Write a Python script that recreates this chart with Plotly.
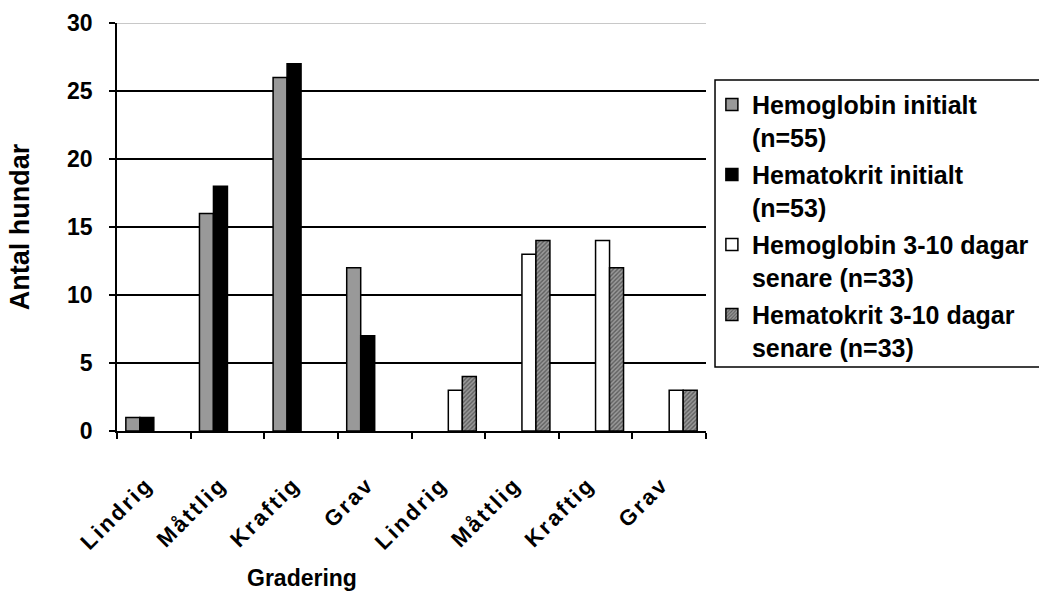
import plotly.graph_objects as go

# Severity grades, shown once for the initial samples and once for the follow-up
grades = ["Lindrig", "Måttlig", "Kraftig", "Grav"]
periods = ["initialt", "3-10 dagar senare"]

hb_initial = [1, 16, 26, 12]
hct_initial = [1, 18, 27, 7]
hb_later = [3, 13, 14, 3]
hct_later = [4, 14, 12, 3]

series_names = [
    "Hemoglobin initialt<br>(n=55)",
    "Hematokrit initialt<br>(n=53)",
    "Hemoglobin 3-10 dagar<br>senare (n=33)",
    "Hematokrit 3-10 dagar<br>senare (n=33)",
]

y_ticks = [0, 5, 10, 15, 20, 25, 30]

# unique category ids, labelled with the plain grade name
cat_ids = [f"{g} ({p})" for p in periods for g in grades]
tick_text = grades * 2
none4 = [None] * 4

FONT = "Liberation Sans, Arial, sans-serif"

fig = go.Figure()
fig.add_bar(name=series_names[0], x=cat_ids, y=hb_initial + none4,
            marker=dict(color="#999999", line=dict(color="black", width=1.5)),
            legendgroup="a")
fig.add_bar(name=series_names[1], x=cat_ids, y=hct_initial + none4,
            marker=dict(color="#000000", line=dict(color="black", width=1.5)),
            legendgroup="b")
fig.add_bar(name=series_names[2], x=cat_ids, y=none4 + hb_later,
            marker=dict(color="#ffffff", line=dict(color="black", width=1.5)),
            legendgroup="c")
fig.add_bar(name=series_names[3], x=cat_ids, y=none4 + hct_later,
            marker=dict(color="#8c8c8c", line=dict(color="black", width=1.5),
                        pattern=dict(shape="/", fgcolor="#222222", bgcolor="#9a9a9a",
                                     size=3, solidity=0.45)),
            legendgroup="d")

fig.update_layout(
    width=1039, height=601,
    margin=dict(l=117, r=333, t=23, b=170, autoexpand=False),
    paper_bgcolor="white", plot_bgcolor="white",
    barmode="group", bargap=0.24, bargroupgap=0,
    font=dict(family=FONT, color="black"),
    showlegend=True,
    legend=dict(
        x=1.010, xanchor="left", y=0.856, yanchor="top",
        font=dict(family=FONT, size=25, color="black", weight="bold"),
        valign="top", tracegroupgap=2, itemclick=False,
        bgcolor="rgba(0,0,0,0)", borderwidth=0,
    ),
    xaxis=dict(
        type="category", categoryorder="array", categoryarray=cat_ids,
        tickmode="array", tickvals=cat_ids, ticktext=tick_text,
        tickson="boundaries", ticks="outside", ticklen=6, tickwidth=1.5,
        tickcolor="black", showline=True, linecolor="black", linewidth=1.5,
        tickangle=-45, ticklabelstandoff=30, ticklabelshift=-7,
        tickfont=dict(family=FONT, size=22, weight="bold"),
        showgrid=False, zeroline=False,
    ),
    yaxis=dict(
        range=[0, 30], tickmode="array", tickvals=y_ticks,
        ticks="outside", ticklen=6, tickwidth=1.5, tickcolor="black",
        showline=True, linecolor="black", linewidth=1.5,
        showgrid=True, gridcolor="black", gridwidth=1.5, zeroline=False,
        tickfont=dict(family=FONT, size=23, weight="bold"),
        ticklabelstandoff=12,
        title=dict(text="Antal hundar", standoff=30,
                   font=dict(family=FONT, size=27, weight="bold")),
    ),
    shapes=[
        # light top edge of the plot area
        dict(type="line", xref="paper", yref="y", x0=0, x1=1, y0=30, y1=30,
             line=dict(color="#c8c8c8", width=2), layer="above"),
        # legend frame
        dict(type="rect", xref="paper", yref="paper",
             x0=1.0153, x1=1.6, y0=0.157, y1=0.860,
             line=dict(color="black", width=1.5), fillcolor="rgba(0,0,0,0)"),
    ],
    annotations=[
        dict(text="Gradering", xref="paper", yref="paper", x=0.314, y=-0.36,
             xanchor="center", yanchor="middle", showarrow=False,
             font=dict(family=FONT, size=23, weight="bold")),
    ],
)

# widen the letter spacing of the category labels
spacing_js = """
var gd = document.getElementById('{plot_id}');
gd.querySelectorAll('.xtick text').forEach(function(t){ t.style.letterSpacing = '2.5px'; });
"""

fig.write_html("out.html", post_script=spacing_js)
